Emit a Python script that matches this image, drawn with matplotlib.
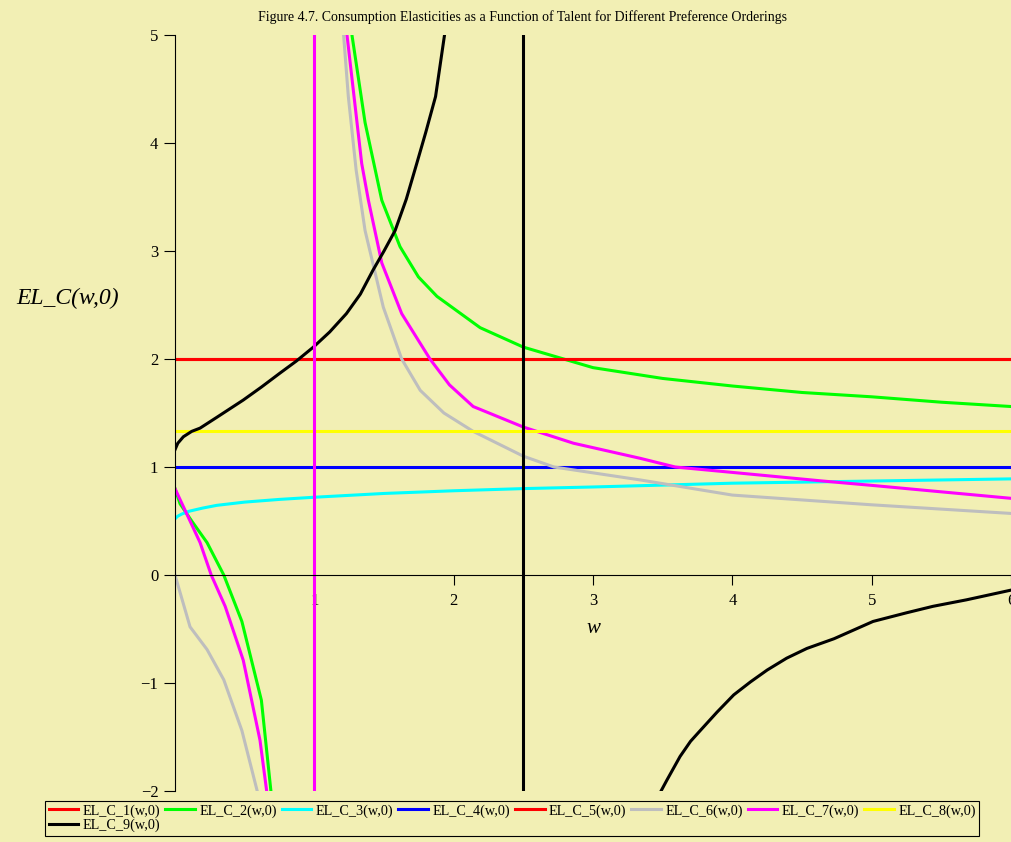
import numpy as np
import matplotlib
matplotlib.use("Agg")
import matplotlib.pyplot as plt

# --- values ---
title = "Figure 4.7. Consumption Elasticities as a Function of Talent for Different Preference Orderings"

# constant elasticities
el_1 = 2.0
el_4 = 1.0
el_5 = 2.0
el_8 = 4.0 / 3.0

# EL_C_2 (green), two branches
c2_lo_w = [0.0, 0.036, 0.12, 0.23, 0.35, 0.48, 0.62, 0.69, 0.71]
c2_lo_y = [0.80, 0.66, 0.50, 0.30, 0.0, -0.43, -1.16, -2.02, -2.2]
c2_hi_w = [1.25, 1.27, 1.364, 1.484, 1.615, 1.747, 1.88, 2.19, 2.5, 3.0, 3.5, 4.0, 4.5, 5.0, 5.5, 6.0]
c2_hi_y = [5.3, 5.0, 4.19, 3.47, 3.04, 2.76, 2.58, 2.29, 2.11, 1.92, 1.82, 1.75, 1.69, 1.65, 1.60, 1.56]

# EL_C_3 (cyan)
c3_w = [0.0, 0.02, 0.05, 0.1, 0.2, 0.3, 0.5, 0.75, 1.0, 1.5, 2.0, 2.5, 3.0, 4.0, 5.0, 6.0]
c3_y = [0.52, 0.545, 0.565, 0.59, 0.62, 0.645, 0.675, 0.70, 0.72, 0.755, 0.78, 0.80, 0.815, 0.85, 0.87, 0.89]

# EL_C_6 (grey), two branches
c6_lo_w = [0.0, 0.108, 0.23, 0.35, 0.48, 0.59, 0.61]
c6_lo_y = [0.0, -0.48, -0.69, -0.97, -1.44, -2.0, -2.2]
c6_hi_w = [1.20, 1.21, 1.244, 1.30, 1.364, 1.495, 1.627, 1.76, 1.93, 2.14, 2.5, 2.72, 3.34, 4.0, 5.0, 6.0]
c6_hi_y = [5.3, 5.0, 4.43, 3.75, 3.19, 2.48, 2.0, 1.71, 1.50, 1.33, 1.10, 1.0, 0.88, 0.74, 0.65, 0.57]

# EL_C_7 (magenta), two branches
c7_lo_w = [0.0, 0.18, 0.26, 0.36, 0.49, 0.61, 0.66, 0.68]
c7_lo_y = [0.80, 0.30, 0.0, -0.29, -0.79, -1.53, -2.02, -2.2]
c7_hi_w = [1.22, 1.23, 1.34, 1.388, 1.484, 1.627, 1.83, 1.97, 2.14, 2.5, 2.86, 3.34, 3.59, 4.0, 4.65, 5.0, 6.0]
c7_hi_y = [5.3, 5.05, 3.81, 3.47, 2.89, 2.42, 2.0, 1.76, 1.56, 1.37, 1.22, 1.08, 1.0, 0.95, 0.87, 0.83, 0.71]

# EL_C_9 (black), two branches
c9_lo_w = [0.0, 0.02, 0.06, 0.12, 0.18, 0.30, 0.49, 0.62, 0.754, 0.87, 0.993, 1.11, 1.23,
           1.33, 1.42, 1.50, 1.58, 1.66, 1.735, 1.80, 1.87, 1.94, 1.96]
c9_lo_y = [1.16, 1.22, 1.28, 1.33, 1.36, 1.46, 1.62, 1.74, 1.87, 1.98, 2.11, 2.25, 2.42,
           2.60, 2.82, 3.00, 3.19, 3.48, 3.81, 4.10, 4.43, 5.05, 5.3]
c9_hi_w = [3.46, 3.48, 3.53, 3.625, 3.70, 3.77, 3.89, 4.01, 4.13, 4.25, 4.39, 4.535, 4.73,
           5.01, 5.25, 5.44, 5.68, 6.0]
c9_hi_y = [-2.2, -2.02, -1.90, -1.68, -1.54, -1.44, -1.27, -1.11, -0.99, -0.88, -0.77, -0.68, -0.59,
           -0.43, -0.35, -0.29, -0.23, -0.14]

# vertical segments drawn across the discontinuities
vert_w = [1.0, 2.5]
vert_colors = ["#FF00FF", "#000000"]

labels = ["EL_C_%d(w,0)" % i for i in range(1, 10)]
colors = ["#FF0000", "#00FF00", "#00FFFF", "#0000FF", "#FF0000",
          "#BEBEBE", "#FF00FF", "#FFFF00", "#000000"]

bg = "#F2EFB4"
plt.rcParams["font.family"] = ["Liberation Serif", "DejaVu Serif"]

fig = plt.figure(figsize=(10.11, 8.42), dpi=100, facecolor=bg)
ax = fig.add_axes([175 / 1011, 51 / 842, 836 / 1011, 756 / 842])
ax.set_facecolor(bg)

lw = 2.2
xlim = (0, 6)
handles = []
h, = ax.plot(xlim, [el_1, el_1], color=colors[0], lw=lw); handles.append(h)
h, = ax.plot(c2_lo_w, c2_lo_y, color=colors[1], lw=lw)
ax.plot(c2_hi_w, c2_hi_y, color=colors[1], lw=lw); handles.append(h)
h, = ax.plot(c3_w, c3_y, color=colors[2], lw=lw); handles.append(h)
h, = ax.plot(xlim, [el_4, el_4], color=colors[3], lw=lw); handles.append(h)
h, = ax.plot(xlim, [el_5, el_5], color=colors[4], lw=lw); handles.append(h)
h, = ax.plot(c6_lo_w, c6_lo_y, color=colors[5], lw=lw)
ax.plot(c6_hi_w, c6_hi_y, color=colors[5], lw=lw); handles.append(h)
h, = ax.plot(c7_lo_w, c7_lo_y, color=colors[6], lw=lw)
ax.plot(c7_hi_w, c7_hi_y, color=colors[6], lw=lw); handles.append(h)
h, = ax.plot(xlim, [el_8, el_8], color=colors[7], lw=lw); handles.append(h)
h, = ax.plot(c9_lo_w, c9_lo_y, color=colors[8], lw=lw)
ax.plot(c9_hi_w, c9_hi_y, color=colors[8], lw=lw); handles.append(h)

for xv, c in zip(vert_w, vert_colors):
    ax.axvline(xv, color=c, lw=lw)

ax.set_xlim(0, 6)
ax.set_ylim(-2, 5)

# maple style axes through the origin
ax.spines["top"].set_visible(False)
ax.spines["right"].set_visible(False)
ax.spines["bottom"].set_position(("data", 0))
ax.spines["left"].set_linewidth(0.8)
ax.spines["bottom"].set_linewidth(0.8)
ax.set_xticks([1, 2, 3, 4, 5, 6])
ax.set_yticks([-2, -1, 0, 1, 2, 3, 4, 5])
ax.tick_params(axis="x", direction="out", length=7, width=0.8, pad=6, labelsize=12)
ax.tick_params(axis="y", direction="out", length=8, width=0.8, pad=4, labelsize=12)

ax.text(-0.129, 0.652, "EL_C(w,0)", transform=ax.transAxes, ha="center",
        va="center", fontsize=17, style="italic")
ax.text(0.5, 0.2156, "w", transform=ax.transAxes, ha="center", va="center",
        fontsize=15, style="italic")

fig.text(0.517, 0.98, title, ha="center", va="center", fontsize=10)

# reorder so the legend fills row by row like the original
order = [0, 8, 1, 2, 3, 4, 5, 6, 7]
leg = fig.legend([handles[i] for i in order], [labels[i] for i in order],
                 ncol=8, loc="lower left", bbox_to_anchor=(45 / 1011, 6 / 842),
                 fontsize=10.2, handlelength=2.1, handletextpad=0.3,
                 columnspacing=0.35, borderpad=0.25, labelspacing=0.1,
                 fancybox=False, framealpha=1, borderaxespad=0)
leg.get_frame().set_edgecolor("black")
leg.get_frame().set_facecolor(bg)
leg.get_frame().set_linewidth(0.8)

fig.savefig("out.png", dpi=100, facecolor=bg)
